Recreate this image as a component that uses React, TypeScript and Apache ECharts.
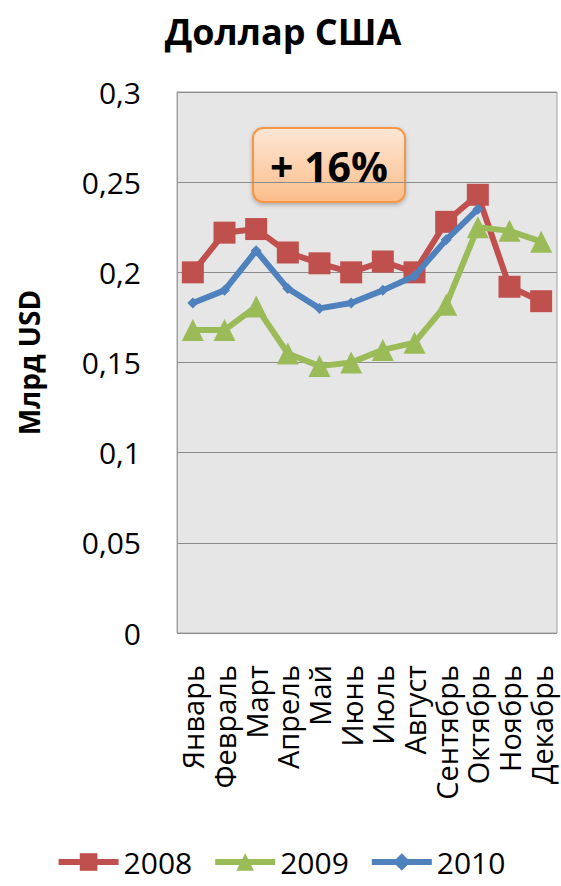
import React, { useEffect, useRef } from "react";
import * as echarts from "echarts";

const months = ["Январь", "Февраль", "Март", "Апрель", "Май", "Июнь", "Июль", "Август", "Сентябрь", "Октябрь", "Ноябрь", "Декабрь"];
const s2008 = [0.2, 0.222, 0.224, 0.211, 0.205, 0.2, 0.206, 0.2, 0.228, 0.243, 0.192, 0.184];
const s2009 = [0.168, 0.168, 0.181, 0.155, 0.148, 0.15, 0.157, 0.161, 0.182, 0.225, 0.223, 0.217];
const s2010 = [0.183, 0.19, 0.212, 0.191, 0.18, 0.183, 0.19, 0.198, 0.218, 0.235];
const seriesNames = ["2008", "2009", "2010"];

const FONT = "'Open Sans', 'Noto Sans', sans-serif";

export default function App() {
  const ref = useRef<HTMLDivElement>(null);
  useEffect(() => {
    const chart = echarts.init(ref.current!, null, { renderer: "svg" });
    chart.setOption({
      animation: false,
      backgroundColor: "#ffffff",
      title: {
        text: "Доллар США",
        left: 278,
        top: 8,
        textAlign: "center",
        textStyle: { fontFamily: FONT, fontSize: 36, fontWeight: "bold", color: "#000" },
      },
      grid: { left: 177, right: 4, top: 92, bottom: 253, containLabel: false, show: true, backgroundColor: "#e6e6e6", borderColor: "#a0a0a0", borderWidth: 1 },
      legend: {
        bottom: 4,
        left: "center",
        itemWidth: 60,
        itemHeight: 22,
        itemGap: 20,
        lineStyle: { width: 6 },
        textStyle: { fontFamily: FONT, fontSize: 30, color: "#000", lineHeight: 30 },
        data: seriesNames,
      },
      xAxis: {
        type: "category",
        data: months,
        boundaryGap: true,
        axisLine: { show: false },
        axisTick: { show: false },
        axisLabel: { rotate: 90, interval: 0, fontFamily: FONT, fontSize: 29, color: "#000", margin: 32 },
      },
      yAxis: {
        type: "value",
        min: 0,
        max: 0.3,
        interval: 0.05,
        name: "Млрд USD",
        nameLocation: "middle",
        nameGap: 134,
        nameRotate: 90,
        nameTextStyle: { fontFamily: FONT, fontSize: 28, fontWeight: "bold", color: "#000" },
        axisLine: { show: true, lineStyle: { color: "#a0a0a0" } },
        axisTick: { show: false },
        splitLine: { lineStyle: { color: "#8c8c8c", width: 1 } },
        axisLabel: {
          fontFamily: FONT,
          fontSize: 30,
          color: "#000",
          margin: 36,
          formatter: (v: number) => String(+v.toFixed(2)).replace(".", ","),
        },
      },
      series: [
        {
          name: "2008",
          type: "line",
          data: s2008,
          color: "#c0504d",
          lineStyle: { width: 6, color: "#c0504d" },
          symbol: "rect",
          symbolSize: 22,
          itemStyle: { color: "#c0504d" },
          z: 2,
        },
        {
          name: "2009",
          type: "line",
          data: s2009,
          color: "#9bbb59",
          lineStyle: { width: 6, color: "#9bbb59" },
          symbol: "triangle",
          symbolSize: 22,
          itemStyle: { color: "#9bbb59" },
          z: 3,
        },
        {
          name: "2010",
          type: "line",
          data: s2010,
          color: "#4f81bd",
          lineStyle: { width: 6, color: "#4f81bd" },
          symbol: "diamond",
          symbolSize: 11,
          itemStyle: { color: "#4f81bd" },
          z: 4,
        },
      ],
      graphic: [
        {
          type: "group",
          left: 252,
          top: 127,
          z: 100,
          children: [
            {
              type: "rect",
              shape: { x: 0, y: 0, width: 152, height: 74, r: 10 },
              style: {
                fill: new echarts.graphic.LinearGradient(0, 0, 0, 1, [
                  { offset: 0, color: "#fde7d6" },
                  { offset: 1, color: "#fbbd8a" },
                ]),
                stroke: "#f79646",
                lineWidth: 2,
                shadowBlur: 4,
                shadowColor: "rgba(0,0,0,0.25)",
                shadowOffsetY: 2,
              },
            },
            {
              type: "text",
              x: 76,
              y: 38,
              style: {
                text: "+ 16%",
                fontFamily: FONT,
                fontSize: 41,
                fontWeight: "bold",
                fill: "#000",
                align: "center",
                verticalAlign: "middle",
              },
            },
          ],
        },
      ],
    });
    return () => chart.dispose();
  }, []);
  return <div ref={ref} style={{ width: 561, height: 886, position: "absolute", left: 0, top: 0 }} />;
}
